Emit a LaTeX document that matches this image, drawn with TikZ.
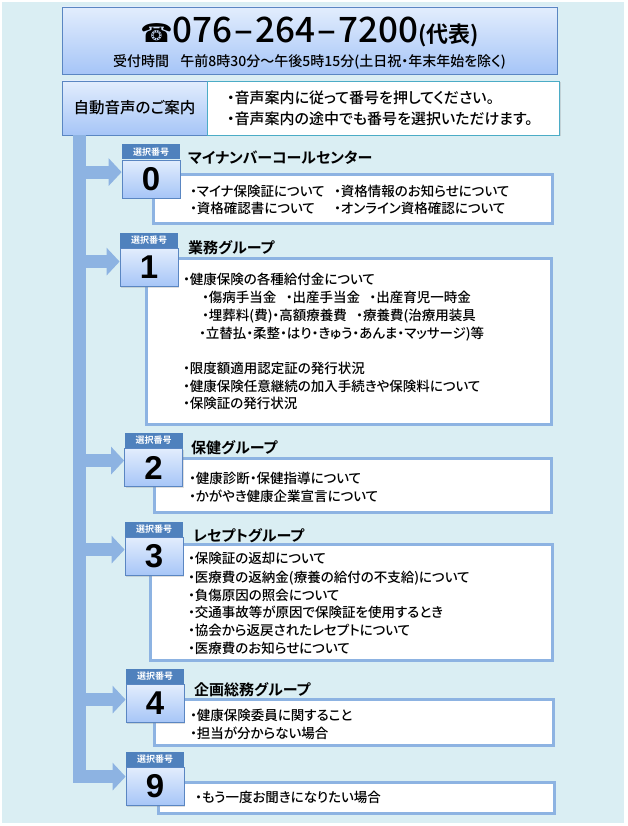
\documentclass[tikz,border=0pt]{standalone}
\usepackage{fontspec}
\setmainfont[RawFeature=+palt, UprightFont={* Medium}, BoldFont={* Bold}]{Noto Sans CJK JP}
\newfontfamily\numfont{Liberation Sans}
\newfontfamily\symfont{DejaVu Sans}
\usetikzlibrary{positioning,calc,arrows.meta,shadows}
\definecolor{bgblue}{HTML}{DAEEF3}
\definecolor{lineblue}{HTML}{8DB3E2}
\definecolor{headblue}{HTML}{4F81BD}
\definecolor{gradtop}{HTML}{E2EDFD}
\definecolor{gradbot}{HTML}{A6C5F7}
\definecolor{edgeblue}{HTML}{5A86C2}
\definecolor{tealedge}{HTML}{4BACC6}

\begin{document}
\begin{tikzpicture}[x=1pt,y=-1pt,
    gradbox/.style={draw=edgeblue, line width=0.8pt, top color=gradtop, bottom color=gradbot, inner sep=0pt,
      drop shadow={shadow xshift=1.2pt, shadow yshift=-1.2pt, opacity=0.25}},
    selhead/.style={fill=headblue, text=white, minimum width=58pt, minimum height=15pt, inner sep=0pt,
      font=\bfseries\fontsize{9}{9}\selectfont},
    selnum/.style={gradbox, minimum width=58pt, minimum height=38pt, font=\numfont\bfseries\fontsize{33}{33}\selectfont},
    menubox/.style={draw=lineblue, line width=3pt, fill=white},
    flow/.style={draw=lineblue, line width=13pt, -{Triangle[length=13pt,width=27pt]}},
    title/.style={anchor=base west, inner sep=0pt, font=\bfseries\fontsize{15}{15}\selectfont},
    item/.style={anchor=base west, inner sep=0pt, font=\fontsize{13.5}{13.5}\selectfont}]
    \useasboundingbox (0,0) rectangle (627,826);
    \fill[white] (0,0) rectangle (627,826);
    \fill[bgblue] (2,2) rectangle (624,823);

    % header
    \node[gradbox, minimum width=495pt, minimum height=67pt] (tel) at (309.5,40.5) {};
    \node[anchor=base, inner sep=0pt] (telno) at (309.5,43)
      {{\symfont\fontsize{26}{26}\selectfont ☎}{\fontsize{35}{35}\selectfont 076\hspace{2pt}–\hspace{2pt}264\hspace{2pt}–\hspace{2pt}7200}{\bfseries\fontsize{22}{22}\selectfont (代表)}};
    \node[anchor=base, inner sep=0pt, font=\fontsize{14}{14}\selectfont] (hours) at (309.5,67)
      {受付時間\hspace{0.8em}午前8時30分～午後5時15分(土日祝・年末年始を除く)};

    \node[gradbox, minimum width=145pt, minimum height=54pt, font=\fontsize{15.5}{15.5}\selectfont] (auto) at (134.5,108) {自動音声のご案内};
    \node[draw=tealedge, line width=0.8pt, fill=white, minimum width=352pt, minimum height=54pt, inner sep=0pt,
      drop shadow={shadow xshift=1.2pt, shadow yshift=-1.2pt, opacity=0.25}, right=0pt of auto] (guide) {};
    \node[item, font=\fontsize{15}{15}\selectfont] (g1) at (227,104) {・音声案内に従って番号を押してください。};
    \node[item, font=\fontsize{15}{15}\selectfont] (g2) at (227,125) {・音声案内の途中でも番号を選択いただけます。};

    % menu boxes
    \draw[menubox] (153.5,174.5) rectangle (552.5,223.5);
    \draw[menubox] (146.5,258.5) rectangle (551.5,424.5);
    \draw[menubox] (154.5,458.5) rectangle (551.5,512.5);
    \draw[menubox] (150.5,544.5) rectangle (552.5,660.5);
    \draw[menubox] (154.5,699.5) rectangle (553.5,745.5);
    \draw[menubox] (158.5,782.5) rectangle (554.5,813.5);

    % number keys
    \node[selhead] (h0) at (151,152) {選択番号};
    \node[selnum, below=0pt of h0] (s0) {0};
    \node[selhead] (h1) at (149,240.5) {選択番号};
    \node[selnum, below=0pt of h1] (s1) {1};
    \node[selhead] (h2) at (153.5,440.5) {選択番号};
    \node[selnum, below=0pt of h2] (s2) {2};
    \node[selhead] (h3) at (154,529.5) {選択番号};
    \node[selnum, below=0pt of h3] (s3) {3};
    \node[selhead] (h4) at (155,676.5) {選択番号};
    \node[selnum, below=0pt of h4] (s4) {4};
    \node[selhead] (h9) at (155,759.5) {選択番号};
    \node[selnum, below=0pt of h9] (s9) {9};

    % arrows
    \coordinate (bar) at (79.5,135);
    \coordinate (a0) at ([yshift=7pt]s0.west);
    \coordinate (a1) at ([yshift=6pt]s1.west);
    \coordinate (a2) at ([yshift=7pt]s2.west);
    \coordinate (a3) at ([yshift=7pt]s3.west);
    \coordinate (a4) at ([yshift=4pt]s4.west);
    \coordinate (a9) at ([yshift=10pt]s9.west);
    \draw[flow] (bar) |- (a9);
    \draw[flow] (bar |- a0) -- (a0);
    \draw[flow] (bar |- a1) -- (a1);
    \draw[flow] (bar |- a2) -- (a2);
    \draw[flow] (bar |- a3) -- (a3);
    \draw[flow] (bar |- a4) -- (a4);

    % 0
    \node[title] (m0) at (188,164) {マイナンバーコールセンター};
    \node[item] (t0a) at (190,197) {・マイナ保険証について};
    \node[item] (t0b) at (190,214) {・資格確認書について};
    \node[item] (t0c) at (334,197) {・資格情報のお知らせについて};
    \node[item] (t0d) at (334,214) {・オンライン資格確認について};
    % 1
    \node[title] (m1) at (188,253) {業務グループ};
    \node[item] (t1a) at (183,284) {・健康保険の各種給付金について};
    \node[item] (t1b) at (202,302) {・傷病手当金\hspace{0.7em}・出産手当金\hspace{0.7em}・出産育児一時金};
    \node[item] (t1c) at (202,320) {・埋葬料(費)・高額療養費\hspace{0.7em}・療養費(治療用装具};
    \node[item] (t1d) at (199,338) {・立替払・柔整・はり・きゅう・あんま・マッサージ)等};
    \node[item] (t1e) at (183,373) {・限度額適用認定証の発行状況};
    \node[item] (t1f) at (183,391) {・健康保険任意継続の加入手続きや保険料について};
    \node[item] (t1g) at (183,408) {・保険証の発行状況};
    % 2
    \node[title] (m2) at (191,453) {保健グループ};
    \node[item] (t2a) at (189,483) {・健康診断・保健指導について};
    \node[item] (t2b) at (189,501) {・かがやき健康企業宣言について};
    % 3
    \node[title] (m3) at (193,541) {レセプトグループ};
    \node[item] (t3a) at (188,563) {・保険証の返却について};
    \node[item] (t3b) at (188,582) {・医療費の返納金(療養の給付の不支給)について};
    \node[item] (t3c) at (188,600) {・負傷原因の照会について};
    \node[item] (t3d) at (188,617) {・交通事故等が原因で保険証を使用するとき};
    \node[item] (t3e) at (188,635) {・協会から返戻されたレセプトについて};
    \node[item] (t3f) at (188,653) {・医療費のお知らせについて};
    % 4
    \node[title] (m4) at (194,695) {企画総務グループ};
    \node[item] (t4a) at (190,720) {・健康保険委員に関すること};
    \node[item] (t4b) at (190,738) {・担当が分からない場合};
    % 9
    \node[item] (t9a) at (195,802) {・もう一度お聞きになりたい場合};
\end{tikzpicture}
\end{document}
